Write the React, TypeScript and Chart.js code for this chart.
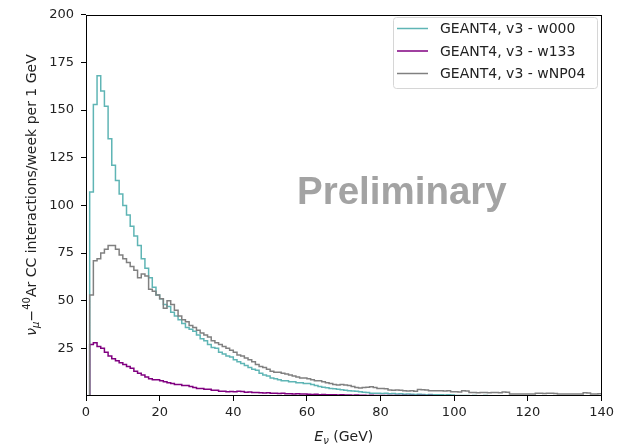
import { useEffect, useRef } from 'react';
import { Chart, registerables } from 'chart.js';

Chart.register(...registerables);

// Neutrino energy bins: 1 GeV wide, from 0 to 140 GeV
const BIN_WIDTH = 1;
const X_MIN = 0;
const X_MAX = 140;
const X_TICKS = [0, 20, 40, 60, 80, 100, 120, 140];
const Y_TICKS = [25, 50, 75, 100, 125, 150, 175, 200];

const LABELS = ['GEANT4, v3 - w000', 'GEANT4, v3 - w133', 'GEANT4, v3 - wNP04'];

// events per bin (bins 0-1, 1-2, ... 139-140 GeV)
const W000: number[] = [
  0, 107, 153, 168, 160, 152, 135, 121, 113, 106,
  100, 95, 89, 84, 79, 72, 67, 62, 57, 53,
  51, 48, 47, 44, 42, 40, 38, 36, 35, 34,
  32, 30, 29, 27, 25.5, 25, 23, 22, 21, 20.5,
  19, 18, 17, 16, 15, 14, 13.5, 12, 11, 10.5,
  9.5, 9, 8.5, 8, 8, 7.5, 7.5, 7, 7, 6.5,
  6.6, 6, 5.5, 5, 4.6, 4.3, 4, 3.8, 3.5, 3.3,
  3, 2.8, 2.6, 2.5, 2.2, 2, 1.8, 1.5, 1.4, 1.4,
  1.3, 1.4, 1.2, 1.3, 1.1, 1.2, 0.9, 1.0, 0.9, 0.8,
  0.9, 0.8, 0.7, 0.8, 0.6, 0.7, 0.6, 0.5, 0.6, 0.5,
  0.3, 0.2, 0.3, 0.2, 0.1, 0.2, 0.1, 0.1, 0.2, 0.1,
  0.1, 0.1, 0.1, 0.1, 0.1, 0.1, 0.1, 0.1, 0.1, 0.1,
  0.1, 0.1, 0.1, 0.1, 0.1, 0.1, 0.1, 0.1, 0.1, 0.1,
  0.1, 0.1, 0.1, 0.1, 0.1, 0.1, 0.1, 0.1, 0.1, 0.1,
];

const W133: number[] = [
  0, 27, 28, 26, 25, 23, 21, 19.5, 18.5, 17.5,
  16.5, 15.5, 14.5, 13, 12, 11, 10, 9, 8.5, 8.5,
  8, 7.5, 7, 6.5, 6, 6, 5.5, 5.5, 5, 4.5,
  4, 4, 3.5, 3.5, 3, 3, 2.5, 2.5, 2.2, 2.3,
  2.2, 2.5, 2.3, 2.0, 2.1, 1.8, 1.8, 1.7, 1.6, 1.7,
  1.5, 1.4, 1.3, 1.4, 1.2, 1.2, 1.1, 1.2, 1.0, 1.0,
  0.9, 0.8, 0.9, 0.7, 0.8, 0.6, 0.7, 0.6, 0.5, 0.6,
  0.5, 0.5, 0.4, 0.5, 0.4, 0.4, 0.3, 0.4, 0.3, 0.3,
  0.3, 0.3, 0.2, 0.3, 0.2, 0.2, 0.3, 0.2, 0.2, 0.1,
  0.2, 0.2, 0.1, 0.2, 0.1, 0.1, 0.1, 0.1, 0.1, 0.1,
  0.1, 0, 0, 0, 0, 0, 0, 0, 0, 0,
  0, 0, 0, 0, 0, 0, 0, 0, 0, 0,
  0, 0, 0, 0, 0, 0, 0, 0, 0, 0,
  0, 0, 0, 0, 0, 0, 0, 0, 0, 0,
];

const WNP04: number[] = [
  0, 53, 71, 72, 75, 77, 79, 79, 77, 74,
  72, 70, 68, 66, 62, 64, 63, 56, 55, 53,
  51, 46, 50, 48, 45, 42, 40, 39, 37, 36,
  34.5, 33, 32, 31, 29, 28, 27, 26, 25, 24,
  23, 21.5, 21, 20, 19, 18, 16.5, 15.5, 15, 14,
  13, 12.5, 12.5, 12, 11.5, 11, 10.5, 10, 9.5, 9.5,
  9, 8.5, 8, 8, 7.5, 7, 6.5, 6, 5.8, 6,
  5.8, 5.5, 5, 4.5, 4.2, 4.5, 4.6, 4.8, 4.5, 4,
  4, 3.8, 3.2, 3, 3.2, 3, 2.7, 2.6, 2.7, 2.5,
  3.4, 3.3, 3.2, 2.8, 2.8, 2.7, 2.8, 2.6, 2.7, 2.2,
  2.2, 2.1, 2.8, 2.6, 1.8, 1.8, 1.7, 1.9, 1.8, 1.7,
  1.8, 1.8, 1.7, 2.1, 2.0, 1.0, 1.1, 1.0, 1.1, 1.0,
  1.0, 1.1, 1.4, 1.4, 1.3, 1.4, 1.4, 1.3, 1.0, 1.1,
  1.0, 1.0, 1.1, 1.0, 1.0, 1.7, 1.6, 1.0, 1.0, 1.2,
];

const COLORS = ['#5fb5b5', '#800080', '#808080'];
const SERIES = [W000, W133, WNP04];

const FONT = '"DejaVu Sans", "Liberation Sans", sans-serif';

function toSteps(values: number[]) {
  const pts = values.map((v, i) => ({ x: X_MIN + i * BIN_WIDTH, y: v }));
  pts.push({ x: X_MIN + values.length * BIN_WIDTH, y: values[values.length - 1] });
  return pts;
}

type Seg = { text: string; font: string; dy: number };

function drawRich(ctx: CanvasRenderingContext2D, segs: Seg[], cx: number, by: number) {
  let total = 0;
  const widths = segs.map((s) => {
    ctx.font = s.font;
    const w = ctx.measureText(s.text).width;
    total += w;
    return w;
  });
  let x = cx - total / 2;
  ctx.textAlign = 'left';
  ctx.textBaseline = 'alphabetic';
  segs.forEach((s, i) => {
    ctx.font = s.font;
    ctx.fillText(s.text, x, by + s.dy);
    x += widths[i];
  });
}

const decorations = {
  id: 'decorations',
  afterDatasetsDraw(chart: any) {
    const ctx: CanvasRenderingContext2D = chart.ctx;
    ctx.save();
    // "Preliminary" watermark
    ctx.fillStyle = '#a3a3a3';
    ctx.font = 'bold 38.5px "Liberation Sans", Arial, sans-serif';
    ctx.textAlign = 'left';
    ctx.textBaseline = 'alphabetic';
    ctx.fillText('Preliminary', 297, 204);
    ctx.restore();
  },
  afterDraw(chart: any) {
    const ctx: CanvasRenderingContext2D = chart.ctx;
    const a = chart.chartArea;
    ctx.save();
    // axes frame
    ctx.strokeStyle = '#000';
    ctx.lineWidth = 1;
    ctx.strokeRect(Math.round(a.left) + 0.5, Math.round(a.top) + 0.5, Math.round(a.right - a.left) - 1, Math.round(a.bottom - a.top) - 1);

    // legend
    const lx = 393.5, ly = 17.5, lw = 204, lh = 71;
    ctx.beginPath();
    const r = 3;
    ctx.moveTo(lx + r, ly);
    ctx.lineTo(lx + lw - r, ly);
    ctx.arcTo(lx + lw, ly, lx + lw, ly + r, r);
    ctx.lineTo(lx + lw, ly + lh - r);
    ctx.arcTo(lx + lw, ly + lh, lx + lw - r, ly + lh, r);
    ctx.lineTo(lx + r, ly + lh);
    ctx.arcTo(lx, ly + lh, lx, ly + lh - r, r);
    ctx.lineTo(lx, ly + r);
    ctx.arcTo(lx, ly, lx + r, ly, r);
    ctx.closePath();
    ctx.fillStyle = 'rgba(255,255,255,0.8)';
    ctx.fill();
    ctx.strokeStyle = '#d6d6d6';
    ctx.stroke();
    LABELS.forEach((lab, i) => {
      const y = 28.5 + i * 22.5;
      ctx.strokeStyle = COLORS[i];
      ctx.lineWidth = 1.5;
      ctx.beginPath();
      ctx.moveTo(397, y);
      ctx.lineTo(428, y);
      ctx.stroke();
      ctx.fillStyle = '#222';
      ctx.font = `14px ${FONT}`;
      ctx.textAlign = 'left';
      ctx.textBaseline = 'middle';
      ctx.fillText(lab, 440, y + 1);
    });

    // axis titles
    ctx.fillStyle = '#222';
    drawRich(ctx, [
      { text: 'E', font: `italic 14px ${FONT}`, dy: 0 },
      { text: 'ν', font: `italic 10px ${FONT}`, dy: 3 },
      { text: ' (GeV)', font: `14px ${FONT}`, dy: 0 },
    ], (a.left + a.right) / 2, 441);

    ctx.translate(30, 195);
    ctx.rotate(-Math.PI / 2);
    drawRich(ctx, [
      { text: 'ν', font: `italic 14px ${FONT}`, dy: 0 },
      { text: 'μ', font: `italic 10px ${FONT}`, dy: 3 },
      { text: '−', font: `14px ${FONT}`, dy: 0 },
      { text: '40', font: `10px ${FONT}`, dy: -6 },
      { text: 'Ar CC interactions/week per 1 GeV', font: `14px ${FONT}`, dy: 0 },
    ], 0, 5.5);
    ctx.restore();
  },
};

export default function App() {
  const ref = useRef<HTMLCanvasElement>(null);
  useEffect(() => {
    const chart = new Chart(ref.current as HTMLCanvasElement, {
      type: 'line',
      data: {
        datasets: SERIES.map((vals, i) => ({
          label: LABELS[i],
          data: toSteps(vals),
          borderColor: COLORS[i],
          backgroundColor: COLORS[i],
          borderWidth: 1.5,
          pointRadius: 0,
          stepped: 'before' as const,
          fill: false,
          order: 3 - i,
        })),
      },
      options: {
        responsive: false,
        animation: false,
        devicePixelRatio: 1,
        layout: { padding: { left: 0, right: 15, top: 12, bottom: 0 } },
        plugins: {
          legend: { display: false },
          tooltip: { enabled: false },
          title: { display: false },
        },
        scales: {
          x: {
            type: 'linear',
            min: X_MIN,
            max: X_MAX,
            afterBuildTicks: (s: any) => {
              s.ticks = X_TICKS.map((v) => ({ value: v }));
            },
            afterFit: (s: any) => {
              s.height = 49;
            },
            grid: { display: true, drawOnChartArea: false, drawTicks: true, tickLength: 5, tickColor: '#000', lineWidth: 1 },
            border: { display: false },
            ticks: { color: '#222', font: { family: FONT, size: 13 }, padding: 4, maxRotation: 0, autoSkip: false },
          },
          y: {
            type: 'linear',
            min: 0,
            max: 200,
            afterBuildTicks: (s: any) => {
              s.ticks = Y_TICKS.map((v) => ({ value: v }));
            },
            afterFit: (s: any) => {
              s.width = 86;
            },
            grid: { display: true, drawOnChartArea: false, drawTicks: true, tickLength: 5, tickColor: '#000', lineWidth: 1 },
            border: { display: false },
            ticks: { color: '#222', font: { family: FONT, size: 13 }, padding: 7, autoSkip: false },
          },
        },
      },
      plugins: [decorations],
    });
    return () => chart.destroy();
  }, []);
  return (
    <div style={{ position: 'absolute', left: 0, top: 0, width: 618, height: 445, background: '#fff' }}>
      <canvas ref={ref} width={618} height={445} style={{ display: 'block' }} />
    </div>
  );
}
